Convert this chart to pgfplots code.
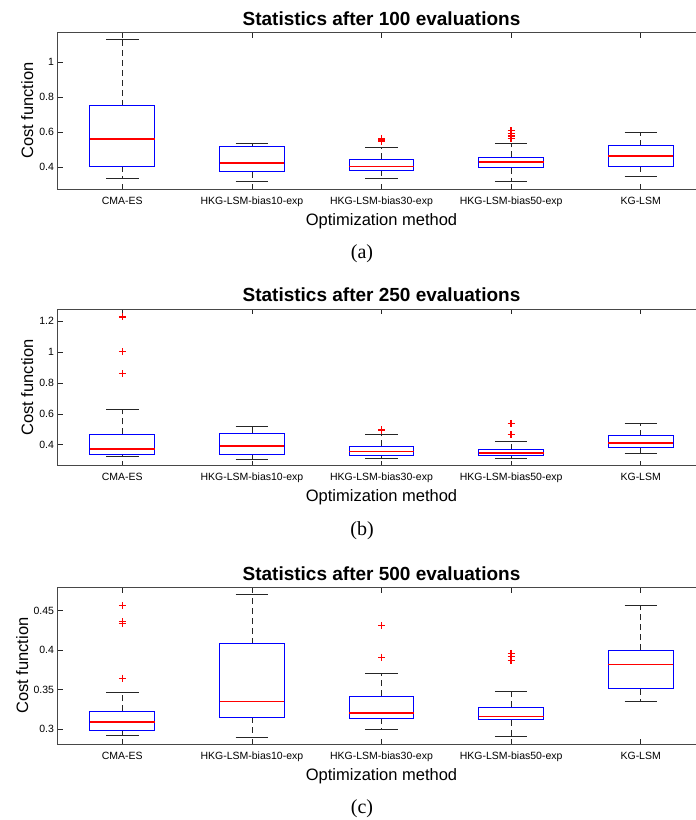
\documentclass[border=0pt]{standalone}
\usepackage{fontspec}
\setmainfont{Liberation Sans}
\newfontfamily\capfont{Liberation Serif}
\usepackage{pgfplots}
\pgfplotsset{compat=1.18}
\usepgfplotslibrary{statistics}

\definecolor{axgray}{rgb}{0.15,0.15,0.15}
\definecolor{mblue}{rgb}{0,0,1}
\definecolor{mred}{rgb}{1,0,0}

\pgfplotsset{
  boxplot/draw/lower whisker/.code={%
    \draw[black!85, line width=0.75bp, dash pattern=on 6bp off 4bp]
      (boxplot box cs:\pgfplotsboxplotvalue{lower quartile},0.5)
      -- (boxplot box cs:\pgfplotsboxplotvalue{lower whisker},0.5);
    \draw[black!85, line width=0.75bp]
      (boxplot whisker cs:\pgfplotsboxplotvalue{lower whisker},0)
      -- (boxplot whisker cs:\pgfplotsboxplotvalue{lower whisker},1);
  },
  boxplot/draw/upper whisker/.code={%
    \draw[black!85, line width=0.75bp, dash pattern=on 6bp off 4bp]
      (boxplot box cs:\pgfplotsboxplotvalue{upper quartile},0.5)
      -- (boxplot box cs:\pgfplotsboxplotvalue{upper whisker},0.5);
    \draw[black!85, line width=0.75bp]
      (boxplot whisker cs:\pgfplotsboxplotvalue{upper whisker},0)
      -- (boxplot whisker cs:\pgfplotsboxplotvalue{upper whisker},1);
  },
  boxplot/draw/median/.code={%
    \draw[mred, line width=1.6bp]
      (boxplot box cs:\pgfplotsboxplotvalue{median},0)
      -- (boxplot box cs:\pgfplotsboxplotvalue{median},1);
  },
  boxplot/every box/.style={draw=mblue, line width=1bp},
  mbox/.style={
    boxplot prepared={#1, box extend=0.5, whisker extend=0.25},
    boxplot/draw direction=y,
    color=mred, mark=+, mark size=3.5bp,
    mark options={draw=mred, solid, line width=1.3bp},
  },
  stat/.style={
    width=648bp, height=156.5bp, scale only axis, anchor=south west,
    xmin=0.5, xmax=5.5, xtick={1,2,3,4,5},
    xticklabels={CMA-ES,HKG-LSM-bias10-exp,HKG-LSM-bias30-exp,HKG-LSM-bias50-exp,KG-LSM},
    tick align=inside, major tick length=5bp,
    axis line style={draw=axgray!85, line width=0.8bp},
    every tick/.style={draw=axgray, line width=0.6bp},
    tick label style={font=\fontsize{10.5bp}{12bp}\selectfont},
    xticklabel style={anchor=base, yshift=-15bp},
    every axis title shift=0pt,
    title style={font=\bfseries\fontsize{19bp}{22bp}\selectfont,
      at={(axis description cs:0.5,1)}, anchor=base, yshift=7.5bp},
    xlabel={Optimization method}, ylabel={Cost function},
    label style={font=\fontsize{16.5bp}{19bp}\selectfont},
    xlabel style={at={(axis description cs:0.5,0)}, anchor=base, yshift=-36bp},
    ylabel style={at={(axis description cs:-0.0378,0.5)}, anchor=base},
  },
}

\begin{document}
\begin{tikzpicture}
\useasboundingbox (0,0) rectangle (696bp,-820bp);
\clip (0,0) rectangle (696bp,-820bp);

% (a) 100 evaluations
\begin{axis}[stat, at={(57.5bp,-189bp)},
  title={Statistics after 100 evaluations},
  ymin=0.276, ymax=1.169, ytick={0.4,0.6,0.8,1}, yticklabels={0.4,0.6,0.8,1}]
\addplot[mbox={draw position=1, lower whisker=0.335, lower quartile=0.406, median=0.563, upper quartile=0.752, upper whisker=1.129}] coordinates {};
\addplot[mbox={draw position=2, lower whisker=0.318, lower quartile=0.375, median=0.423, upper quartile=0.518, upper whisker=0.539}] coordinates {};
\addplot[mbox={draw position=3, lower whisker=0.337, lower quartile=0.383, median=0.404, upper quartile=0.446, upper whisker=0.516}]
  table[row sep=\\, y index=0] {y\\ 0.565\\ 0.556\\ 0.548\\};
\addplot[mbox={draw position=4, lower whisker=0.318, lower quartile=0.396, median=0.430, upper quartile=0.457, upper whisker=0.539}]
  table[row sep=\\, y index=0] {y\\ 0.609\\ 0.594\\ 0.579\\ 0.563\\};
\addplot[mbox={draw position=5, lower whisker=0.350, lower quartile=0.407, median=0.466, upper quartile=0.523, upper whisker=0.600}] coordinates {};
\end{axis}

% (b) 250 evaluations
\begin{axis}[stat, at={(57.5bp,-465.7bp)},
  title={Statistics after 250 evaluations},
  ymin=0.264, ymax=1.278, ytick={0.4,0.6,0.8,1,1.2}, yticklabels={0.4,0.6,0.8,1,1.2}]
\addplot[mbox={draw position=1, lower whisker=0.322, lower quartile=0.335, median=0.372, upper quartile=0.467, upper whisker=0.630}]
  table[row sep=\\, y index=0] {y\\ 1.228\\ 1.003\\ 0.860\\};
\addplot[mbox={draw position=2, lower whisker=0.307, lower quartile=0.338, median=0.392, upper quartile=0.474, upper whisker=0.521}] coordinates {};
\addplot[mbox={draw position=3, lower whisker=0.312, lower quartile=0.331, median=0.357, upper quartile=0.390, upper whisker=0.465}]
  table[row sep=\\, y index=0] {y\\ 0.497\\ 0.492\\};
\addplot[mbox={draw position=4, lower whisker=0.312, lower quartile=0.331, median=0.346, upper quartile=0.368, upper whisker=0.420}]
  table[row sep=\\, y index=0] {y\\ 0.539\\ 0.465\\};
\addplot[mbox={draw position=5, lower whisker=0.346, lower quartile=0.381, median=0.413, upper quartile=0.458, upper whisker=0.541}] coordinates {};
\end{axis}

% (c) 500 evaluations
\begin{axis}[stat, at={(57.5bp,-744bp)},
  title={Statistics after 500 evaluations},
  ylabel style={at={(axis description cs:-0.0455,0.5)}},
  ymin=0.2815, ymax=0.479, ytick={0.3,0.35,0.4,0.45}, yticklabels={0.3,0.35,0.4,0.45}]
\addplot[mbox={draw position=1, lower whisker=0.292, lower quartile=0.298, median=0.309, upper quartile=0.323, upper whisker=0.347}]
  table[row sep=\\, y index=0] {y\\ 0.456\\ 0.4357\\ 0.4339\\ 0.3645\\};
\addplot[mbox={draw position=2, lower whisker=0.290, lower quartile=0.315, median=0.335, upper quartile=0.408, upper whisker=0.470}] coordinates {};
\addplot[mbox={draw position=3, lower whisker=0.300, lower quartile=0.314, median=0.321, upper quartile=0.342, upper whisker=0.371}]
  table[row sep=\\, y index=0] {y\\ 0.431\\ 0.391\\};
\addplot[mbox={draw position=4, lower whisker=0.2916, lower quartile=0.312, median=0.316, upper quartile=0.328, upper whisker=0.348}]
  table[row sep=\\, y index=0] {y\\ 0.396\\ 0.392\\ 0.387\\};
\addplot[mbox={draw position=5, lower whisker=0.3356, lower quartile=0.351, median=0.382, upper quartile=0.400, upper whisker=0.456}] coordinates {};
\end{axis}

\node[font=\capfont\fontsize{20bp}{22bp}\selectfont, anchor=base] at (362bp,-258bp) {(a)};
\node[font=\capfont\fontsize{20bp}{22bp}\selectfont, anchor=base] at (362bp,-535bp) {(b)};
\node[font=\capfont\fontsize{20bp}{22bp}\selectfont, anchor=base] at (362bp,-813bp) {(c)};
\end{tikzpicture}
\end{document}
